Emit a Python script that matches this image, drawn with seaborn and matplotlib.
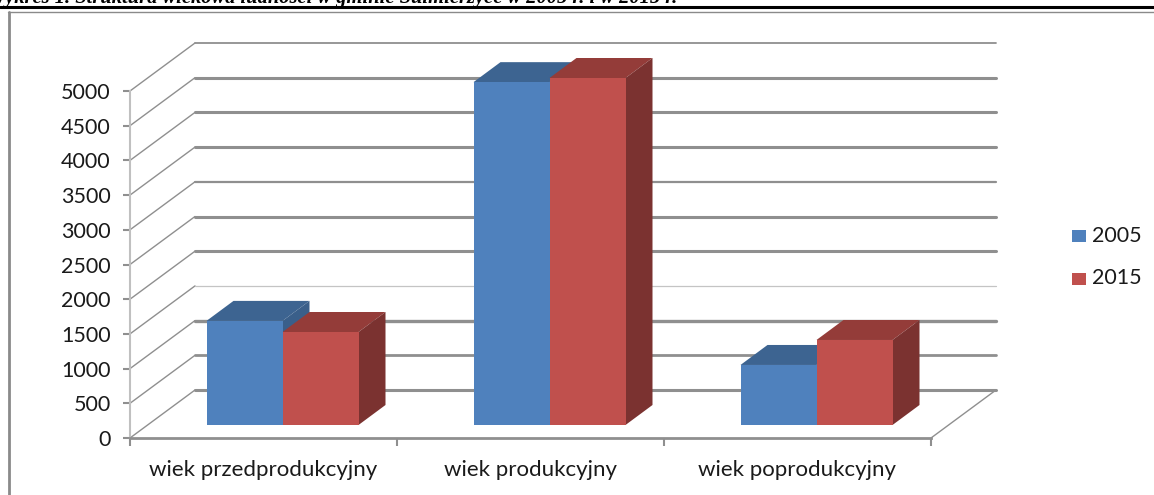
import matplotlib
matplotlib.use("Agg")
import matplotlib.pyplot as plt
import pandas as pd
import seaborn as sns
from matplotlib.patches import Polygon, Rectangle

categories = ["wiek przedprodukcyjny", "wiek produkcyjny", "wiek poprodukcyjny"]
years = ["2005", "2015"]
values_2005 = [1500, 4940, 865]
values_2015 = [1340, 5000, 1225]
y_ticks = [0, 500, 1000, 1500, 2000, 2500, 3000, 3500, 4000, 4500, 5000]
header = "Wykres 1. Struktura wiekowa ludności w gminie Sulmierzyce w 2005 r. i w 2015 r."

W, H = 1154, 495
sns.set_theme(style="white")
plt.rcParams["font.family"] = ["Lato", "DejaVu Sans"]
fig = plt.figure(figsize=(W / 100, H / 100), dpi=100)

# plot area: front axis runs 130..931 px horizontally, 438..91 px vertically
L, B, PX_Y = 130, 438, 347 / 5000
PX_X = (931 - 130) / 3
ax = fig.add_axes([L / W, 1 - B / H, (1000 - L) / W, (B - 40) / H])


def dx(px):
    return px / PX_X


def dy(px):
    return px / PX_Y


df = pd.DataFrame({
    "kategoria": categories * 2,
    "rok": [years[0]] * 3 + [years[1]] * 3,
    "wartosc": values_2005 + values_2015,
})

GRID = "#8f8f8f"
# oblique floor/wall lines and back-wall gridlines
wall_dx, wall_dy = dx(65), dy(48)
widths = {0: 2.2, 500: 2.0, 1000: 2.4, 1500: 0.9, 2000: 2.2, 2500: 2.2, 3000: 1.6,
          3500: 2.2, 4000: 2.2, 4500: 2.2, 5000: 1.3}
for v in y_ticks:
    ax.plot([-0.5, -0.5 + wall_dx], [v, v + wall_dy], color=GRID, lw=1.0, zorder=1, clip_on=False)
    ax.plot([-0.5 + wall_dx, 2.5 + wall_dx], [v + wall_dy, v + wall_dy],
            color="#c4c4c4" if v == 1500 else GRID, lw=widths[v], zorder=1, clip_on=False)
ax.plot([2.5, 2.5 + wall_dx], [0, wall_dy], color=GRID, lw=1.0, zorder=1, clip_on=False)

# bars stand on a plane shifted into the depth of the chart
shift_x, shift_y = dx(19), dy(13)
bar_w = 76 / PX_X
sns.barplot(data=df, x="kategoria", y="wartosc", hue="rok", order=categories, hue_order=years,
            palette=["#4f81bd", "#c0504d"], width=2 * bar_w, gap=0, dodge=True,
            legend=False, saturation=1, errorbar=None, bottom=shift_y, linewidth=0,
            zorder=3, ax=ax)
ax.set_xlim(-0.5, -0.5 + (1000 - L) / PX_X)
ax.set_ylim(0, (B - 40) / PX_Y)

top_cols = ["#3d6491", "#943c39"]
side_cols = ["#3a5f8a", "#7b3230"]
depth_x, depth_y = dx(27), dy(20)
for group, cont in enumerate(ax.containers):
    for i, p in enumerate(cont.patches):
        x0, w, v = p.get_x() + shift_x, p.get_width(), p.get_height()
        p.set_x(x0)
        y0 = shift_y
        y1 = shift_y + v
        x1 = x0 + w
        # within a pair the 2015 bar sits in front of the 2005 one, so draw 2005 faces first
        z = 2 + group * 0.1
        ax.add_patch(Polygon([(x0, y1), (x1, y1), (x1 + depth_x, y1 + depth_y), (x0 + depth_x, y1 + depth_y)],
                             closed=True, fc=top_cols[group], ec="none", zorder=z))
        ax.add_patch(Polygon([(x1, y0), (x1 + depth_x, y0 + depth_y), (x1 + depth_x, y1 + depth_y), (x1, y1)],
                             closed=True, fc=side_cols[group], ec="none", zorder=z))
        p.set_zorder(3 + group * 0.1)

# axes
ax.set_xlabel("")
ax.set_ylabel("")
ax.set_xticks([-0.5, 0.5, 1.5, 2.5])
ax.set_xticklabels([])
ax.set_yticks(y_ticks)
ax.tick_params(axis="y", length=5, width=1.5, color=GRID, labelsize=15.5, labelcolor="#1a1a1a", pad=9, left=True)
ax.tick_params(axis="x", length=6, width=1.5, color=GRID, bottom=True)
for side in ["top", "right"]:
    ax.spines[side].set_visible(False)
ax.spines["left"].set_bounds(0, 5000)
ax.spines["bottom"].set_bounds(-0.5, 2.5)
ax.spines["left"].set_color("#c0c0c0")
ax.spines["left"].set_linewidth(1.5)
ax.spines["bottom"].set_color(GRID)
ax.spines["bottom"].set_linewidth(2)
ax.patch.set_alpha(0)
for i, c in enumerate(categories):
    ax.annotate(c, (i, 0), xytext=(0, -16), textcoords="offset points",
                ha="center", va="top", fontsize=16, color="#1a1a1a", annotation_clip=False)


def fx(px):
    return px / W


def fy(py):
    return 1 - py / H


# legend
for label, col, (sx, sy) in zip(years, ["#4f81bd", "#c0504d"], [(1072, 230), (1072, 273)]):
    fig.add_artist(Rectangle((fx(sx), fy(sy + 12)), 14 / W, 12 / H, transform=fig.transFigure, fc=col, ec="none"))
    fig.text(fx(1092), fy(sy + 5.5), label, fontsize=15.5, color="#1a1a1a", va="center", ha="left")

# page furniture: clipped caption, rules, chart frame
fig.text(fx(-12), fy(3.5), header, family="Liberation Serif", style="italic", weight="bold",
         fontsize=14.8, color="black", va="baseline", ha="left")
fig.add_artist(plt.Line2D([0, 1], [fy(6.5)] * 2, color="black", lw=2.2))
fig.add_artist(plt.Line2D([fx(8), 1], [fy(11.5)] * 2, color="#8a8a8a", lw=1.0))
fig.add_artist(plt.Line2D([fx(8.5), fx(8.5)], [0, fy(11.5)], color="#8a8a8a", lw=2.0))

fig.savefig("out.png", dpi=100)
